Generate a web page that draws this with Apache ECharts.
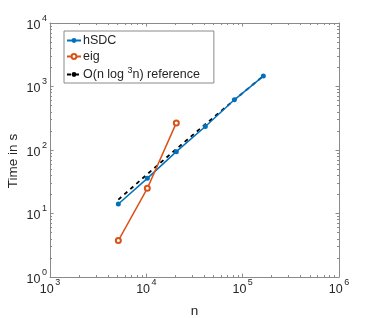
<!DOCTYPE html>
<html><head><meta charset="utf-8">
<script src="https://cdn.jsdelivr.net/npm/echarts@6/dist/echarts.min.js"></script>
<style>html,body{margin:0;padding:0;background:#fff}#c{width:374px;height:318px}</style>
</head><body><div id="c"></div>
<script>
const hsdcN = [5120, 10240, 20480, 40960, 81920, 163840];
const hsdcTimes = [14.1, 35.8, 94.2, 234, 617, 1460];
const eigN = [5120, 10240, 20480];
const eigTimes = [3.75, 24.9, 267];
const refN = [5120, 10240, 20480, 40960, 81920, 163840];
const refTimes = [16.5, 41.7, 103.6, 254, 614, 1467];
const seriesNames = ['hSDC', 'eig', 'ref'];
const legendLabels = ['hSDC', 'eig', 'O(n log {s|3}n) reference'];
const xDecades = [3, 4, 5, 6];
const yDecades = [0, 1, 2, 3, 4];

const FONT = 'Liberation Sans';
const TXT = '#262626';
const AX = '#8a8a8a';

function minorTicks(decs) {
  const out = [];
  for (let i = 0; i < decs.length - 1; i++) {
    const base = Math.pow(10, decs[i]);
    for (let k = 2; k <= 9; k++) out.push(base * k);
  }
  return out;
}
function pair(xs, ys) { return xs.map((x, i) => [x, ys[i]]); }
const supRich = {
  b: { fontSize: 12.5, color: TXT, fontFamily: FONT, verticalAlign: 'bottom', lineHeight: 18 },
  s: { fontSize: 9, color: TXT, fontFamily: FONT, verticalAlign: 'top', lineHeight: 18, padding: [0, 0, 0, 1.5] }
};
function powLabel(v) {
  const e = Math.round(Math.log10(v));
  return '{b|10}{s|' + e + '}';
}

function makeAxis(kind, pos, decs, labels, minor, name) {
  const lo = Math.pow(10, decs[0]), hi = Math.pow(10, decs[decs.length - 1]);
  const ax = {
    type: 'log', logBase: 10, min: lo, max: hi, position: pos,
    gridIndex: 0,
    splitLine: { show: false },
    axisLine: { show: !minor, lineStyle: { color: AX, width: 1 } },
    axisTick: minor
      ? { show: true, inside: true, length: 2, lineStyle: { color: AX }, customValues: minorTicks(decs) }
      : { show: true, inside: true, length: 3.5, lineStyle: { color: AX } },
    axisLabel: labels
      ? { show: true, formatter: powLabel, rich: supRich, margin: kind === 'x' ? 1 : 3 }
      : { show: false }
  };
  if (name) {
    ax.name = name;
    ax.nameLocation = 'middle';
    ax.nameMoveOverlap = false;
    ax.nameTextStyle = { fontFamily: FONT, fontSize: 13.5, color: TXT };
  }
  return ax;
}

const xAxes = [
  makeAxis('x', 'bottom', xDecades, true, false, 'n'),
  makeAxis('x', 'bottom', xDecades, false, true),
  makeAxis('x', 'top', xDecades, false, false),
  makeAxis('x', 'top', xDecades, false, true)
];
xAxes[0].nameGap = 27;
const yAxes = [
  makeAxis('y', 'left', yDecades, true, false, 'Time in s'),
  makeAxis('y', 'left', yDecades, false, true),
  makeAxis('y', 'right', yDecades, false, false),
  makeAxis('y', 'right', yDecades, false, true)
];
yAxes[0].nameGap = 30;
yAxes[0].nameTextStyle.padding = [0, 22, 0, 0];

const chart = echarts.init(document.getElementById('c'), null, { renderer: 'canvas' });
chart.setOption({
  animation: false,
  backgroundColor: '#fff',
  textStyle: { fontFamily: FONT },
  grid: { left: 50, right: 35, top: 23, bottom: 41, containLabel: false, outerBoundsMode: 'none' },
  xAxis: xAxes,
  yAxis: yAxes,
  legend: {
    orient: 'vertical', left: 64, top: 31,
    data: seriesNames,
    formatter: n => legendLabels[seriesNames.indexOf(n)],
    borderColor: AX, borderWidth: 1, borderRadius: 0,
    padding: [3, 14, 2, 2], itemGap: 3, itemWidth: 14, itemHeight: 6,
    textStyle: { fontFamily: FONT, fontSize: 12.5, color: TXT, padding: [0, 0, 0, -3], rich: { s: { fontSize: 9, verticalAlign: 'top', lineHeight: 17, fontFamily: FONT, color: TXT } } }
  },
  series: [
    {
      name: 'hSDC', type: 'line', data: pair(hsdcN, hsdcTimes),
      color: '#0072BD', symbol: 'circle', symbolSize: 5,
      lineStyle: { width: 1.5, color: '#0072BD' }, itemStyle: { color: '#0072BD' }, z: 3
    },
    {
      name: 'eig', type: 'line', data: pair(eigN, eigTimes),
      color: '#D95319', symbol: 'emptyCircle', symbolSize: 5,
      lineStyle: { width: 1.5, color: '#D95319' }, itemStyle: { color: '#D95319', borderWidth: 1.2 }, z: 4
    },
    {
      name: 'ref', type: 'line', data: pair(refN, refTimes),
      color: '#000', symbol: 'none', showSymbol: false,
      lineStyle: { width: 1.8, color: '#000', type: [4, 4] }, z: 2
    }
  ]
});
</script></body></html>
